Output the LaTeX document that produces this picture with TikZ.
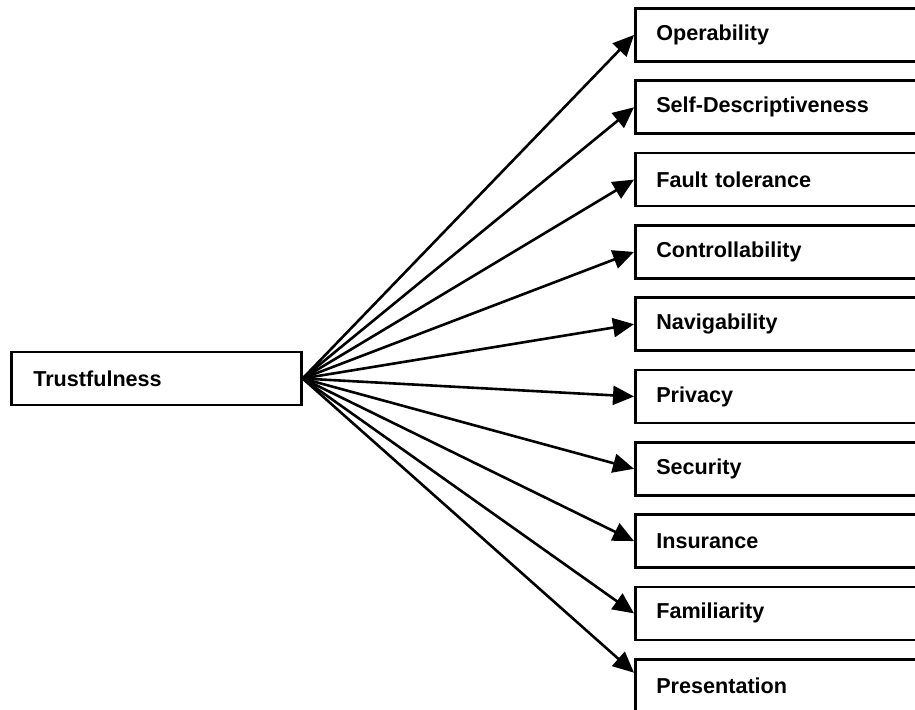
\documentclass[tikz,border=0pt]{standalone}
\usepackage{fontspec}
\setmainfont{Liberation Sans}
\usetikzlibrary{arrows.meta}
\begin{document}
\begin{tikzpicture}[x=0.5pt,y=-0.5pt,
  attr/.style={draw, line width=1.3pt, anchor=west, minimum height=26.5pt,
    inner xsep=10.5pt, text width=127pt, align=left,
    font=\bfseries\fontsize{10.8}{12}\selectfont},
  root/.style={draw, line width=1.3pt, anchor=west, minimum height=26.5pt,
    inner xsep=11pt, text width=123pt, align=left,
    font=\bfseries\fontsize{10.8}{12}\selectfont},
  link/.style={line width=1.3pt, -{Triangle[length=10.5pt,width=9.5pt]}}]
\useasboundingbox (0,0) rectangle (915,710);
\clip (0,0) rectangle (915,710);
\node[root] (t) at (10,378.5) {Trustfulness};
\foreach \name/\txt [count=\i from 0] in {op/Operability, sd/Self-Descriptiveness,
    ft/Fault tolerance, co/Controllability, na/Navigability, pr/Privacy,
    se/Security, in/Insurance, fa/Familiarity, ps/Presentation}
  \node[attr] (\name) at (634,{35+72.3*\i}) {\txt};
\foreach \name in {op,sd,ft,co,na,pr,se,in,fa}
  \draw[link] (t.east) -- (\name.west);
\draw[link] (t.east) -- ([yshift=6.5pt]ps.west);
\end{tikzpicture}
\end{document}
